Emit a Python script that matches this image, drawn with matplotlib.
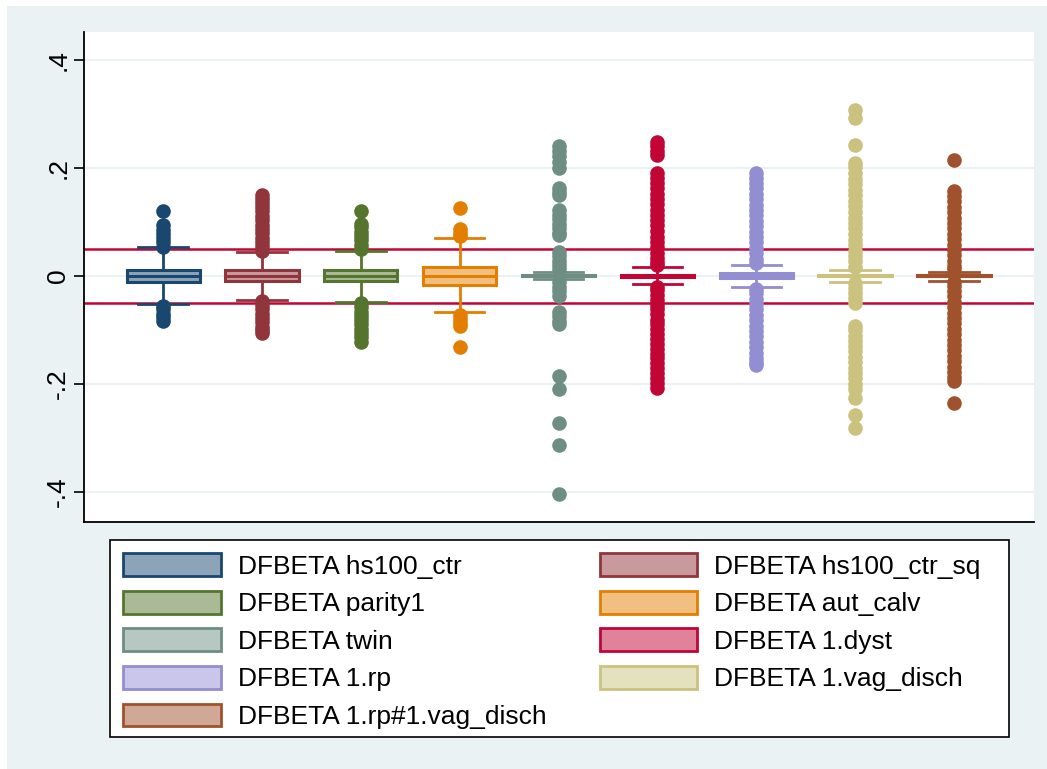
import numpy as np
import matplotlib
matplotlib.use("Agg")
import matplotlib.pyplot as plt
from matplotlib.patches import Patch, Rectangle

plt.rcParams['font.family'] = ['Liberation Sans', 'DejaVu Sans']

# labels and stata s2color colours
labels = ["DFBETA hs100_ctr", "DFBETA hs100_ctr_sq", "DFBETA parity1", "DFBETA aut_calv",
          "DFBETA twin", "DFBETA 1.dyst", "DFBETA 1.rp", "DFBETA 1.vag_disch",
          "DFBETA 1.rp#1.vag_disch"]
colors = ["#1A476F", "#90353B", "#55752F", "#E37E00", "#6E8E84",
          "#C10534", "#938DD2", "#CAC27E", "#A0522D"]

# box summaries
q1 = [-0.011, -0.009, -0.010, -0.017, -0.001, -0.002, -0.004, -0.001, -0.001]
med = [0.0, 0.0, 0.0, 0.0, 0.0, 0.0, 0.0, 0.0, 0.0]
q3 = [0.011, 0.011, 0.011, 0.017, 0.001, 0.002, 0.005, 0.001, 0.001]
whislo = [-0.052, -0.044, -0.048, -0.067, -0.006, -0.015, -0.020, -0.011, -0.009]
whishi = [0.053, 0.044, 0.047, 0.071, 0.007, 0.016, 0.021, 0.011, 0.008]

# outside values
out_hs100 = [0.054, 0.062, 0.070, 0.078, 0.086, 0.094, 0.120,
             -0.055, -0.062, -0.070, -0.077, -0.084]
out_hs100sq = [0.047, 0.055, 0.063, 0.071, 0.079, 0.087, 0.095, 0.103, 0.111, 0.120,
               0.128, 0.136, 0.143, 0.150,
               -0.046, -0.054, -0.062, -0.070, -0.078, -0.086, -0.094, -0.100, -0.105]
out_parity = [0.050, 0.058, 0.066, 0.074, 0.082, 0.090, 0.097, 0.120,
              -0.050, -0.058, -0.066, -0.074, -0.082, -0.090, -0.098, -0.105,
              -0.114, -0.122]
out_autcalv = [0.074, 0.080, 0.087, 0.126, -0.072, -0.080, -0.087, -0.093, -0.131]
out_twin = [0.240, 0.232, 0.222, 0.212, 0.200, 0.163, 0.155, 0.150, 0.122, 0.113,
            0.105, 0.097, 0.088, 0.080, 0.076, 0.044, 0.036, 0.028, 0.020, 0.012,
            -0.012, -0.020, -0.028, -0.037, -0.067, -0.075, -0.083, -0.090,
            -0.186, -0.210, -0.273, -0.313, -0.405]
out_dyst = [0.248, 0.240, 0.232, 0.224, 0.190, 0.181, 0.172, 0.162, 0.151, 0.142,
            0.133, 0.122, 0.112, 0.103, 0.094, 0.083, 0.072, 0.063, 0.054, 0.043,
            0.034, 0.026, 0.020,
            -0.020, -0.027, -0.035, -0.044, -0.053, -0.062, -0.071, -0.081, -0.090,
            -0.099, -0.108, -0.117, -0.126, -0.135, -0.144, -0.153, -0.162, -0.171,
            -0.180, -0.190, -0.199, -0.207]
out_rp = [0.190, 0.182, 0.172, 0.162, 0.152, 0.142, 0.132, 0.122, 0.112, 0.102,
          0.092, 0.082, 0.072, 0.062, 0.052, 0.042, 0.032, 0.024,
          -0.024, -0.032, -0.042, -0.052, -0.062, -0.072, -0.082, -0.092, -0.102,
          -0.112, -0.122, -0.132, -0.142, -0.152, -0.160, -0.165]
out_vag = [0.307, 0.292, 0.243, 0.210, 0.201, 0.191, 0.180, 0.170, 0.160, 0.150,
           0.139, 0.129, 0.118, 0.108, 0.098, 0.088, 0.077, 0.067, 0.057, 0.047,
           0.037, 0.027, 0.017, -0.014, -0.022, -0.031, -0.040, -0.050,
           -0.092, -0.101, -0.111, -0.120, -0.130, -0.140, -0.150, -0.160, -0.170,
           -0.180, -0.190, -0.200, -0.210, -0.226, -0.257, -0.282]
out_rpvag = [0.214, 0.157, 0.148, 0.138, 0.128, 0.118, 0.108, 0.098, 0.088, 0.078,
             0.068, 0.058, 0.048, 0.038, 0.028, 0.018, 0.012, -0.012, -0.018, -0.028,
             -0.038, -0.048, -0.058, -0.068, -0.078, -0.088, -0.098, -0.108, -0.118,
             -0.128, -0.138, -0.148, -0.158, -0.168, -0.178, -0.187, -0.195, -0.235]
outliers = [out_hs100, out_hs100sq, out_parity, out_autcalv, out_twin,
            out_dyst, out_rp, out_vag, out_rpvag]

ytick_vals = [-0.4, -0.2, 0, 0.2, 0.4]
ytick_labels = ["-.4", "-.2", "0", ".2", ".4"]
ref_lines = [-0.05, 0.05]


def lighten(c, f=0.5):
    rgb = np.array(matplotlib.colors.to_rgb(c))
    return tuple(rgb + (1 - rgb) * f)


fig = plt.figure(figsize=(10.47, 7.69), dpi=100, facecolor="white")
W, H = 1047, 769
# graph region
fig.patches.append(Rectangle((7 / W, 0), 1 - 7 / W, 1 - 6 / H, transform=fig.transFigure,
                             facecolor="#EAF2F3", edgecolor="none", zorder=-5))
# legend box
fig.patches.append(Rectangle((110 / W, 1 - 737 / H), 899 / W, 197 / H,
                             transform=fig.transFigure, facecolor="white",
                             edgecolor="black", lw=1.2, zorder=-4))

ax = fig.add_axes([84 / W, 1 - 522 / H, 950 / W, 490 / H])
ax.set_zorder(2)
ax.set_facecolor("white")

for y in ytick_vals:
    ax.axhline(y, color="#EAF2F3", lw=1.5, zorder=0)
for y in ref_lines:
    ax.axhline(y, color="#C10534", lw=1.8, zorder=1)

for i in range(len(labels)):
    st = dict(med=med[i], q1=q1[i], q3=q3[i], whislo=whislo[i], whishi=whishi[i],
              fliers=outliers[i], label=labels[i])
    c = colors[i]
    ax.bxp([st], positions=[i + 1], widths=0.74, capwidths=0.5, patch_artist=True,
           boxprops=dict(facecolor=lighten(c), edgecolor=c, lw=2.2),
           medianprops=dict(color=c, lw=2.2),
           whiskerprops=dict(color=c, lw=2),
           capprops=dict(color=c, lw=2),
           flierprops=dict(marker="o", markersize=10.5, markerfacecolor=c,
                           markeredgecolor=c, markeredgewidth=0),
           zorder=2)

ax.set_xlim(0.2, 9.81)
ax.set_ylim(-0.456, 0.452)
ax.set_xticks([])
ax.set_yticks(ytick_vals)
ax.set_yticklabels(ytick_labels, rotation=90, va="center", fontsize=19)
ax.tick_params(axis="y", length=7.5, width=1.2, pad=2.4)
for s in ["top", "right"]:
    ax.spines[s].set_visible(False)
for s in ["left", "bottom"]:
    ax.spines[s].set_linewidth(1.3)

handles = [Patch(facecolor=lighten(c), edgecolor=c, lw=2) for c in colors]
order = [0, 2, 4, 6, 8, 1, 3, 5, 7]
leg = fig.legend([handles[k] for k in order], [labels[k] for k in order],
                 loc="upper left", ncol=2, mode="expand",
                 bbox_to_anchor=(110 / W, 1 - 540 / H, 884 / W, 0),
                 bbox_transform=fig.transFigure, borderaxespad=0,
                 fontsize=19, handlelength=3.7, handleheight=0.95,
                 handletextpad=0.65, labelspacing=0.46, borderpad=0.5,
                 frameon=False)

fig.savefig("out.png", dpi=100, facecolor=fig.get_facecolor())
